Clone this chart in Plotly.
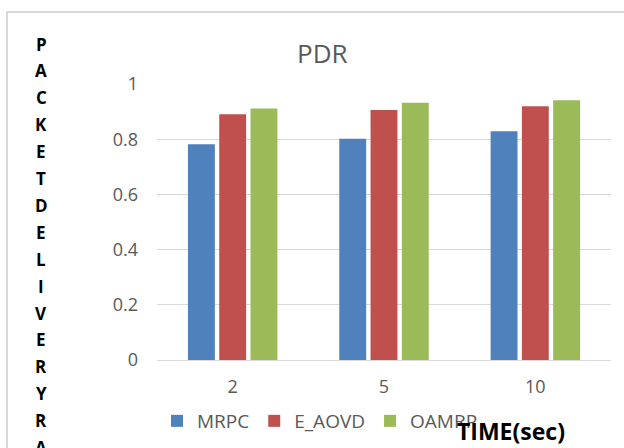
import plotly.graph_objects as go

# Packet delivery ratio per simulation time
times = ["2", "5", "10"]
mrpc = [0.782, 0.802, 0.829]
e_aovd = [0.890, 0.906, 0.919]
oamrp = [0.911, 0.932, 0.941]

series_names = ["MRPC", "E_AOVD", "OAMRP"]
series_colors = ["#4F81BD", "#C0504D", "#9BBB59"]
y_ticks = [0, 0.2, 0.4, 0.6, 0.8, 1]
y_tick_text = ["0", "0.2", "0.4", "0.6", "0.8", "1"]
y_title = "PACKETDELIVERYRATIO"

W, H = 624, 448
ML, MR, MT, MB = 157, 13, 84, 88
PW, PH = W - ML - MR, H - MT - MB


def px_x(px):
    return (px - ML) / PW


def px_y(py):
    return (H - MB - py) / PH


fig = go.Figure()
for name, vals, col in zip(series_names, [mrpc, e_aovd, oamrp], series_colors):
    fig.add_trace(go.Bar(x=times, y=vals, name=name, marker=dict(color=col, line=dict(width=0))))

grey_txt = "#595959"


def label(text, cx, cy, size, color):
    return dict(text=text, x=px_x(cx), y=px_y(cy), xref="paper", yref="paper",
                xanchor="center", yanchor="middle", showarrow=False,
                font=dict(family="Open Sans", size=size, color=color))


annotations = [
    label("PDR", 322, 53, 26, grey_txt),
    label("<b>TIME(sec)</b>", 511, 431, 23, "#000000"),
]
for i, ch in enumerate(y_title):
    annotations.append(label("<b>%s</b>" % ch, 41, 44 + 26.9 * i, 17, "#000000"))

fig.update_layout(
    width=W, height=H,
    margin=dict(l=ML, r=MR, t=MT, b=MB, pad=0, autoexpand=False),
    paper_bgcolor="white", plot_bgcolor="white",
    barmode="group", bargap=0.38, bargroupgap=0.14,
    font=dict(family="Open Sans", color=grey_txt),
    showlegend=True,
    legend=dict(orientation="h", xref="container", yref="container",
                x=157 / W, xanchor="left", y=(H - 421) / H, yanchor="middle",
                font=dict(size=19, color=grey_txt), traceorder="normal",
                bgcolor="rgba(0,0,0,0)"),
    annotations=annotations,
    shapes=[dict(type="rect", xref="paper", yref="paper",
                 x0=px_x(7), x1=px_x(W + 20), y0=px_y(12), y1=px_y(H + 20),
                 line=dict(color="#d9d9d9", width=2), layer="below")],
)
fig.update_xaxes(showgrid=False, showline=False, zeroline=False, automargin=False,
                 ticks="outside", ticklen=10, tickcolor="rgba(0,0,0,0)",
                 tickfont=dict(size=18, color=grey_txt))
fig.update_yaxes(range=[0, 1], tickvals=y_ticks, ticktext=y_tick_text, automargin=False,
                 showgrid=True, gridcolor="#d9d9d9", gridwidth=1,
                 zeroline=True, zerolinecolor="#d9d9d9", zerolinewidth=1,
                 showline=False, ticks="", tickfont=dict(size=18, color=grey_txt),
                 ticklabelstandoff=18)

fig.write_html("out.html")
